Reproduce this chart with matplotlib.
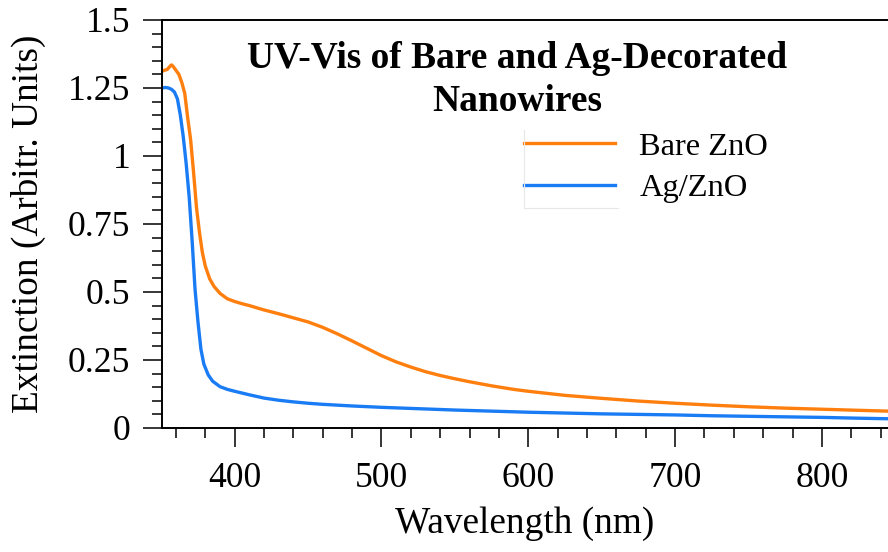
import numpy as np
import matplotlib.pyplot as plt
from matplotlib.lines import Line2D
from matplotlib.ticker import MultipleLocator, FuncFormatter

# extinction spectra (nm, arbitrary units)
wl_bare = [350, 352, 354, 356, 357, 358, 360, 362, 364, 366, 368, 370, 372, 374,
           376, 378, 380, 383, 386, 390, 395, 400, 405, 410, 420, 430, 440, 450,
           460, 470, 480, 490, 500, 510, 520, 530, 540, 550, 560, 575, 590, 600,
           625, 650, 675, 700, 725, 750, 775, 800, 825, 845]
bare_zno = [1.31, 1.315, 1.318, 1.33, 1.335, 1.33, 1.315, 1.30, 1.27, 1.23, 1.14,
            1.06, 0.94, 0.81, 0.72, 0.645, 0.595, 0.548, 0.52, 0.495, 0.475, 0.465,
            0.457, 0.45, 0.434, 0.42, 0.405, 0.39, 0.37, 0.346, 0.32, 0.293, 0.266,
            0.243, 0.224, 0.207, 0.193, 0.181, 0.17, 0.155, 0.142, 0.135, 0.12,
            0.109, 0.099, 0.091, 0.084, 0.078, 0.073, 0.069, 0.065, 0.062]

wl_ag = [350, 353, 355, 357, 359, 361, 363, 365, 367, 369, 371, 373, 375, 377,
         379, 382, 385, 390, 395, 400, 410, 420, 430, 440, 450, 460, 480, 500,
         525, 550, 575, 600, 625, 650, 675, 700, 725, 750, 775, 800, 825, 845]
ag_zno = [1.25, 1.252, 1.25, 1.245, 1.235, 1.21, 1.15, 1.07, 0.97, 0.85, 0.69,
          0.51, 0.39, 0.29, 0.235, 0.195, 0.172, 0.152, 0.142, 0.135, 0.122, 0.11,
          0.102, 0.096, 0.091, 0.087, 0.081, 0.076, 0.071, 0.066, 0.062, 0.058,
          0.055, 0.052, 0.05, 0.048, 0.045, 0.043, 0.041, 0.039, 0.036, 0.034]

labels = ['Bare ZnO', 'Ag/ZnO']
colors = ['#FF7F0E', '#1A7CF4']

plt.rcParams['font.family'] = ['Liberation Serif', 'DejaVu Serif']

fig = plt.figure(figsize=(8.88, 5.52), dpi=100)
ax = fig.add_axes([162 / 888, 124 / 552, 726 / 888, 408 / 552])

ax.plot(wl_bare, bare_zno, color=colors[0], lw=2.4, label=labels[0])
ax.plot(wl_ag, ag_zno, color=colors[1], lw=2.4, label=labels[1])

ax.set_xlim(350.5, 845)
ax.set_ylim(0, 1.5)

ax.xaxis.set_major_locator(MultipleLocator(100))
ax.xaxis.set_minor_locator(MultipleLocator(20))
ax.yaxis.set_major_locator(MultipleLocator(0.25))
ax.yaxis.set_minor_locator(MultipleLocator(0.05))
ax.yaxis.set_major_formatter(FuncFormatter(lambda v, p: '%g' % v))

ax.spines['right'].set_visible(False)
for s in ['left', 'bottom', 'top']:
    ax.spines[s].set_linewidth(1.4)
ax.tick_params(which='both', direction='out', width=1.1, top=False, right=False)
ax.tick_params(which='major', length=13.7, labelsize=25.7)
ax.tick_params(axis='x', which='major', pad=11)
ax.tick_params(axis='y', which='major', pad=9)
ax.tick_params(which='minor', length=7)

ax.set_xlabel('Wavelength (nm)', fontsize=26.8, labelpad=8)
ax.set_ylabel('Extinction (Arbitr. Units)', fontsize=26.8, labelpad=16)

ax.text(0.489, 0.853, 'UV-Vis of Bare and Ag-Decorated\nNanowires',
        transform=ax.transAxes, ha='center', va='center', fontsize=27,
        fontweight='bold', linespacing=1.27)

leg = ax.legend(loc='upper left', bbox_to_anchor=(524 / 888, 1 - 132 / 552),
                bbox_transform=fig.transFigure, frameon=False, fontsize=23.4,
                handlelength=2.8, handletextpad=0.75, labelspacing=0.36,
                borderpad=0, borderaxespad=0)

# faint frame edges around the legend
fig.add_artist(Line2D([524 / 888, 524 / 888], [1 - 130 / 552, 1 - 208 / 552],
                      color='#e8e8e8', lw=0.8))
fig.add_artist(Line2D([524 / 888, 618 / 888], [1 - 208 / 552, 1 - 208 / 552],
                      color='#e8e8e8', lw=0.8))

fig.savefig('out.png', dpi=100)
